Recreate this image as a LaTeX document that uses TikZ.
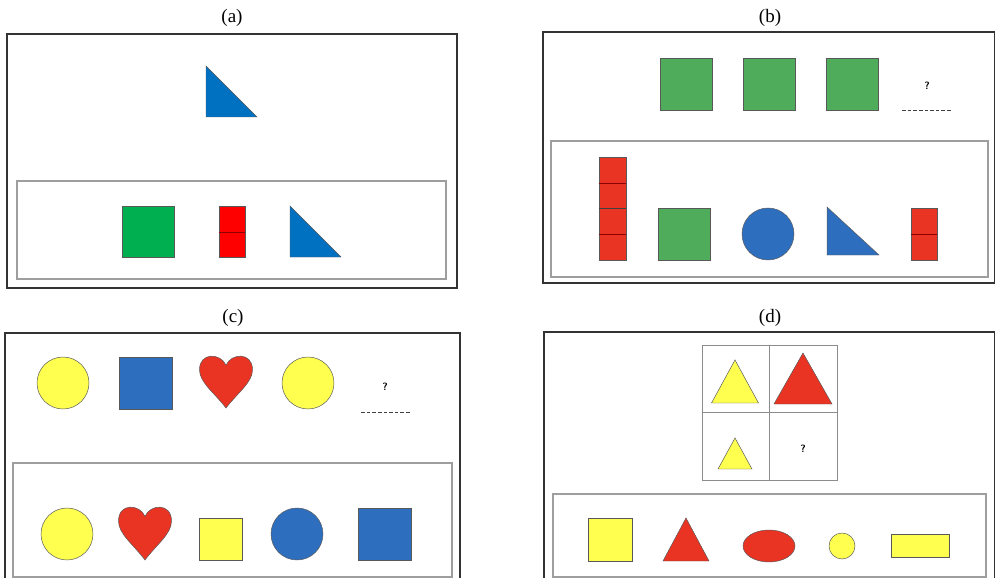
\documentclass[tikz,border=0pt]{standalone}
\usepackage{fontspec}
\setmainfont{Liberation Serif}
\usepackage{xcolor}
\usepackage{tikz}
\definecolor{sqgreen}{HTML}{00B050}
\definecolor{purered}{HTML}{FF0000}
\definecolor{triblue}{HTML}{0070C0}
\definecolor{mgreen}{HTML}{4EAC5B}
\definecolor{mred}{HTML}{E93323}
\definecolor{mblue}{HTML}{2E6EBE}
\definecolor{myellow}{HTML}{FFFF50}
\tikzset{
  outerbox/.style  = {draw=black!80,line width=0.9pt},
  innerbox/.style  = {draw=black!38,line width=0.8pt},
  shapeline/.style = {draw=black!65,line width=0.35pt},
  cellline/.style  = {red!55!black,line width=0.4pt},
  gridline/.style  = {draw=black!45,line width=0.45pt},
  blankline/.style = {black!75,line width=0.5pt,dash pattern=on 2.6pt off 1.4pt},
  qmark/.style     = {font=\fontsize{7.5pt}{9pt}\sffamily\bfseries},
  title/.style     = {font=\fontsize{13.5pt}{16pt}\selectfont}
}
% right triangle: fill, x1, y1, x2, y2
\newcommand{\rtri}[5]{%
  \filldraw[shapeline,fill=#1] (#2,#3) -- (#2,#5) -- (#4,#5) -- cycle;
}
% upright triangle: fill, apex x, apex y, half base, base y
\newcommand{\isotri}[5]{%
  \filldraw[shapeline,fill=#1] (#2,#3) -- ({#2+#4},#5) -- ({#2-#4},#5) -- cycle;
}
% heart: centre x, top, width, height
\newcommand{\heartshape}[4]{%
  \filldraw[shapeline,fill=mred] (#1,{#2+0.16*#4})
    .. controls ({#1-0.1*#3},{#2-0.08*#4}) and ({#1-0.5*#3},{#2-0.1*#4}) .. ({#1-0.5*#3},{#2+0.25*#4})
    .. controls ({#1-0.5*#3},{#2+0.5*#4}) and ({#1-0.22*#3},{#2+0.7*#4}) .. (#1,{#2+#4})
    .. controls ({#1+0.22*#3},{#2+0.7*#4}) and ({#1+0.5*#3},{#2+0.5*#4}) .. ({#1+0.5*#3},{#2+0.25*#4})
    .. controls ({#1+0.5*#3},{#2-0.1*#4}) and ({#1+0.1*#3},{#2-0.08*#4}) .. cycle;
}
\newcommand{\answerline}[3]{%
  \draw[blankline] (#1,#3) -- (#2,#3);
}

\begin{document}
\begin{tikzpicture}[x=0.025cm,y=-0.025cm]
  \clip (0,0) rectangle (996,578);
  % (a)
  \node[title] (tita) at (232,18) {(a)};
  \draw[outerbox] (7,34) rectangle (457,288);
  \draw[innerbox] (17,181) rectangle (446,279);
  \rtri{triblue}{206}{66}{257}{117}
  \filldraw[shapeline,fill=sqgreen] (122,206) rectangle (174,257);
  \filldraw[shapeline,fill=purered] (219,206) rectangle (245,257);
  \draw[cellline] (219,232) -- (245,232);
  \rtri{triblue}{290}{206}{341}{257}
  % (b)
  \node[title] (titb) at (770,18) {(b)};
  \draw[outerbox] (543,32) rectangle (994.5,283);
  \draw[innerbox] (551,141) rectangle (988,277);
  \foreach \x in {660,743,826}
    \filldraw[shapeline,fill=mgreen] (\x,58) rectangle ++(52,52);
  \node[qmark] (qb) at (927,86) {?};
  \answerline{902}{952}{110}
  \filldraw[shapeline,fill=mred] (599,157) rectangle (626,260);
  \draw[cellline] (599,183) -- (626,183) (599,234) -- (626,234);
  \draw[black!75,line width=0.6pt] (599,208) -- (626,208);
  \filldraw[shapeline,fill=mgreen] (658,208) rectangle (710,260);
  \filldraw[shapeline,fill=mblue] (768,234) circle (26);
  \rtri{mblue}{827}{207}{879}{255}
  \filldraw[shapeline,fill=mred] (911,208) rectangle (937,260);
  \draw[cellline] (911,234) -- (937,234);
  % (c)
  \node[title] (titc) at (233,318) {(c)};
  \draw[outerbox] (5,333) rectangle (460,600);
  \draw[innerbox] (13,463) rectangle (452,577);
  \filldraw[shapeline,fill=myellow] (63,383) circle (26);
  \filldraw[shapeline,fill=mblue] (119,357) rectangle (172,409);
  \heartshape{226}{357}{53}{51}
  \filldraw[shapeline,fill=myellow] (308,383) circle (26);
  \node[qmark] (qc) at (385,387) {?};
  \answerline{361}{410}{412}
  \filldraw[shapeline,fill=myellow] (67,534) circle (26);
  \heartshape{145}{508}{53}{52}
  \filldraw[shapeline,fill=myellow] (199,518) rectangle (242,560);
  \filldraw[shapeline,fill=mblue] (297,534) circle (26);
  \filldraw[shapeline,fill=mblue] (358,508) rectangle (411,560);
  % (d)
  \node[title] (titd) at (770,318) {(d)};
  \draw[outerbox] (544,332) rectangle (994.5,600);
  \draw[gridline] (702,345) rectangle (837,480) (769,345) -- (769,480) (702,412) -- (837,412);
  \isotri{myellow}{735}{360}{23.5}{403}
  \isotri{mred}{803}{353}{29}{404}
  \isotri{myellow}{735}{438}{17}{469}
  \node[qmark] (qd) at (803,449) {?};
  \draw[innerbox] (553,494) rectangle (986,577);
  \filldraw[shapeline,fill=myellow] (588,518) rectangle (632,561);
  \isotri{mred}{686}{518}{23}{561}
  \filldraw[shapeline,fill=mred] (769,546) ellipse [x radius=26,y radius=16];
  \filldraw[shapeline,fill=myellow] (842,546) circle (13);
  \filldraw[shapeline,fill=myellow] (891,534) rectangle (949,557);
\end{tikzpicture}
\end{document}
